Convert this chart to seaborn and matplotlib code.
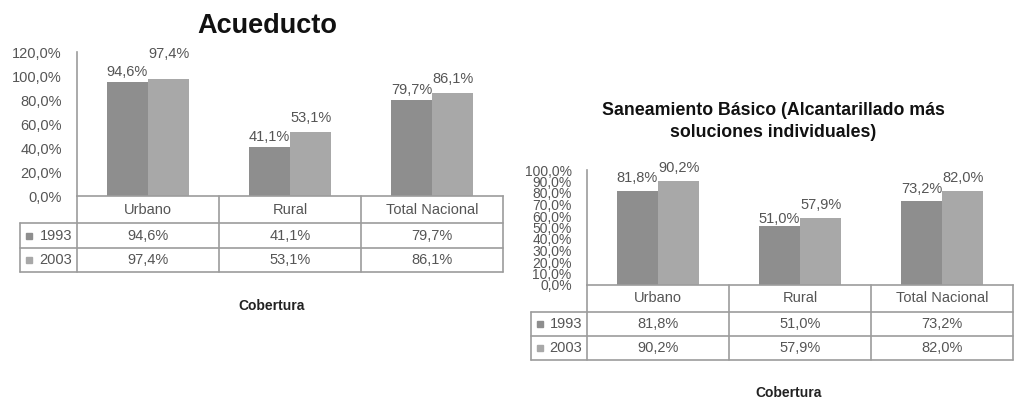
import pandas as pd
import seaborn as sns
from matplotlib import pyplot as plt
from matplotlib.ticker import FuncFormatter, MultipleLocator

categorias = ['Urbano', 'Rural', 'Total Nacional']
anios = ['1993', '2003']

acueducto_1993 = [94.6, 41.1, 79.7]
acueducto_2003 = [97.4, 53.1, 86.1]

saneamiento_1993 = [81.8, 51.0, 73.2]
saneamiento_2003 = [90.2, 57.9, 82.0]

titulo_acueducto = 'Acueducto'
titulo_saneamiento = 'Saneamiento Básico (Alcantarillado más\nsoluciones individuales)'
eje_x = 'Cobertura'

colores = ['#8e8e8e', '#a8a8a8']
gris_texto = '#555555'
gris_linea = '#9c9c9c'

W, H = 1014, 400

sns.set_style('white')
plt.rcParams['font.family'] = ['Liberation Sans', 'DejaVu Sans']


def pct(v):
    return '{0:.1f}%'.format(v).replace('.', ',')


def box(x0, y0, x1, y1):
    # pixel box measured from top-left -> figure fraction rect
    return [x0 / W, 1 - y1 / H, (x1 - x0) / W, (y1 - y0) / H]


def panel(fig, px, tabla_px, filas, serie_a, serie_b, ymax, paso, fs_ticks, offsets):
    ax = fig.add_axes(box(*px))
    df = pd.DataFrame({
        'cat': categorias * 2,
        'val': serie_a + serie_b,
        'anio': [anios[0]] * len(categorias) + [anios[1]] * len(categorias),
    })
    sns.barplot(data=df, x='cat', y='val', hue='anio', palette=colores,
                width=0.58, linewidth=0, saturation=1, legend=False, ax=ax)
    ax.set_xlim(-0.5, 2.5)
    ax.set_ylim(0, ymax)
    ax.yaxis.set_major_locator(MultipleLocator(paso))
    ax.yaxis.set_major_formatter(FuncFormatter(lambda v, p: pct(v)))
    ax.set_xticks([])
    ax.set_xlabel('')
    ax.set_ylabel('')
    ax.tick_params(axis='y', length=0, pad=11, labelsize=fs_ticks, labelcolor=gris_texto)
    for s in ['top', 'right']:
        ax.spines[s].set_visible(False)
    for s in ['left', 'bottom']:
        ax.spines[s].set_color(gris_linea)
        ax.spines[s].set_linewidth(1.2)

    # value labels above bars
    for k, cont in enumerate(ax.containers):
        for j, bar in enumerate(cont):
            v = bar.get_height()
            ax.annotate(pct(v), (bar.get_x() + bar.get_width() / 2, v),
                        xytext=(0, offsets[k][j] * 0.72), textcoords='offset points',
                        ha='center', va='center', fontsize=10.5, color=gris_texto,
                        annotation_clip=False)

    # data table below the chart
    tx = fig.add_axes(box(*tabla_px))
    unidad = (px[2] - px[0]) / 3
    leg = (px[0] - tabla_px[0]) / unidad
    x0 = -0.5 - leg
    tx.set_xlim(x0, 2.5)
    tx.set_ylim(filas[-1], 0)
    tx.axis('off')
    kw = dict(color=gris_linea, lw=1.2, clip_on=False)
    for y in filas[1:]:
        tx.plot([x0, 2.5], [y, y], **kw)
    for x in [-0.5, 0.5, 1.5, 2.5]:
        tx.plot([x, x], [0, filas[-1]], **kw)
    tx.plot([x0, x0], [filas[1], filas[-1]], **kw)

    for j, c in enumerate(categorias):
        tx.text(j, (filas[0] + filas[1]) / 2, c, ha='center', va='center',
                fontsize=10.5, color=gris_texto)
    for k, serie in enumerate([serie_a, serie_b]):
        ym = (filas[k + 1] + filas[k + 2]) / 2
        for j, v in enumerate(serie):
            tx.text(j, ym, pct(v), ha='center', va='center', fontsize=10.5, color=gris_texto)
        tx.plot([x0 + 9 / unidad], [ym], marker='s', ms=4.5, color=colores[k],
                ls='none', clip_on=False)
        tx.text(-0.5 - 5 / unidad, ym, anios[k], ha='right', va='center',
                fontsize=10.5, color=gris_texto)
    return ax


fig = plt.figure(figsize=(W / 100, H / 100), dpi=100)

panel(fig, (77, 52, 503, 196), (20, 196, 503, 272), [0, 27, 52, 76],
      acueducto_1993, acueducto_2003, 120, 20, 10.5,
      [[10, 10, 10], [25, 14, 14]])
fig.text(267 / W, 1 - 26 / H, titulo_acueducto, ha='center', va='center',
         fontsize=19.5, fontweight='bold', color='#111111')
fig.text(272 / W, 1 - 306 / H, eje_x, ha='center', va='center',
         fontsize=10, fontweight='bold', color='#222222')

panel(fig, (587, 170, 1013, 285), (531, 285, 1013, 360), [0, 27, 51, 75],
      saneamiento_1993, saneamiento_2003, 100, 10, 10,
      [[13, 7, 12], [13, 13, 13]])
fig.text(773 / W, 1 - 121.5 / H, titulo_saneamiento, ha='center', va='center',
         fontsize=12.8, fontweight='bold', color='#111111', linespacing=1.35)
fig.text(789 / W, 1 - 393 / H, eje_x, ha='center', va='center',
         fontsize=10, fontweight='bold', color='#222222')

plt.savefig('out.png', dpi=100)
